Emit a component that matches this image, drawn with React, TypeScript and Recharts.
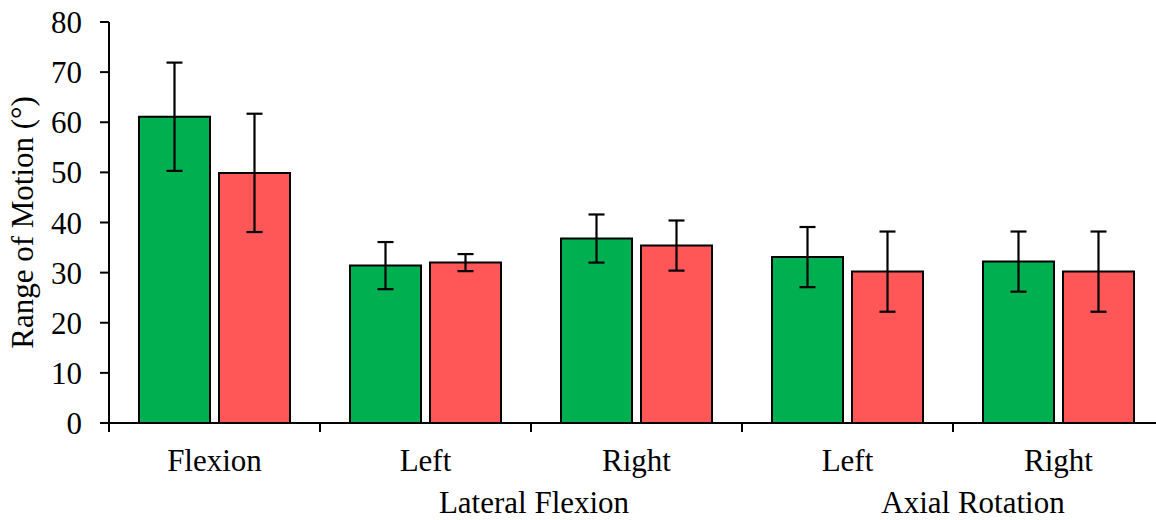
import React from 'react';
import { BarChart, Bar, XAxis, YAxis, ErrorBar } from 'recharts';

const CATEGORIES = ['Flexion', 'Left', 'Right', 'Left', 'Right'];
// group caption centred on the right edge of the category it belongs to
const GROUP_LABELS = ['', 'Lateral Flexion', '', 'Axial Rotation', ''];

const GROUP_A = [61.1, 31.4, 36.8, 33.1, 32.2];
const GROUP_A_SD = [10.8, 4.7, 4.8, 6.0, 6.0];
const GROUP_B = [49.9, 32.0, 35.4, 30.2, 30.2];
const GROUP_B_SD = [11.8, 1.7, 5.0, 8.0, 8.0];

const Y_TICKS = [0, 10, 20, 30, 40, 50, 60, 70, 80];

const FONT = '"Liberation Serif", "Times New Roman", serif';
const FONT_SIZE = 31;

const data = CATEGORIES.map((name, i) => ({
  name,
  a: GROUP_A[i],
  aSd: GROUP_A_SD[i],
  b: GROUP_B[i],
  bSd: GROUP_B_SD[i],
}));

function CategoryTick(props: any) {
  const { x, y, payload, index } = props;
  const half = payload?.offset ?? 105.5;
  const last = index === CATEGORIES.length - 1;
  const group = GROUP_LABELS[index];
  // axial rotation caption sits a bit right of its boundary
  const nudge = index === 3 ? 20 : 3;
  return (
    <g>
      <line x1={x - half} y1={y} x2={x - half} y2={y + 9} stroke="#000" strokeWidth={2} />
      {last && <line x1={x + half} y1={y} x2={x + half} y2={y + 9} stroke="#000" strokeWidth={2} />}
      <text x={x} y={y + 48} textAnchor="middle" fill="#000" fontFamily={FONT} fontSize={FONT_SIZE}>
        {payload.value}
      </text>
      {group && (
        <text x={x + half + nudge} y={y + 90} textAnchor="middle" fill="#000" fontFamily={FONT} fontSize={FONT_SIZE}>
          {group}
        </text>
      )}
    </g>
  );
}

function YTitle(props: any) {
  const vb = props.viewBox || {};
  const cy = (vb.y ?? 22) + (vb.height ?? 401) / 2;
  return (
    <text
      x={33}
      y={cy}
      transform={`rotate(-90, 33, ${cy})`}
      textAnchor="middle"
      fill="#000"
      fontFamily={FONT}
      fontSize={FONT_SIZE}
    >
      Range of Motion (°)
    </text>
  );
}

export default function App() {
  return (
    <div style={{ position: 'absolute', left: 0, top: 0, width: 1156, height: 520, overflow: 'hidden', background: '#fff' }}>
      <BarChart
        width={1180}
        height={520}
        data={data}
        margin={{ top: 22, right: 16, bottom: 0, left: 0 }}
        barCategoryGap={30}
        barGap={9}
      >
        <XAxis
          dataKey="name"
          height={97}
          interval={0}
          axisLine={{ stroke: '#000', strokeWidth: 2 }}
          tickLine={false}
          tickSize={0}
          tickMargin={0}
          tick={<CategoryTick />}
        />
        <YAxis
          width={109}
          domain={[0, 80]}
          ticks={Y_TICKS}
          interval={0}
          axisLine={{ stroke: '#000', strokeWidth: 2 }}
          tickLine={{ stroke: '#000', strokeWidth: 2 }}
          tickSize={9}
          tickMargin={18}
          tick={{ fill: '#000', fontFamily: FONT, fontSize: FONT_SIZE }}
          label={<YTitle />}
        />
        <Bar dataKey="a" fill="#00B050" stroke="#000" strokeWidth={2} isAnimationActive={false}>
          <ErrorBar dataKey="aSd" width={8} stroke="#000" strokeWidth={2.2} />
        </Bar>
        <Bar dataKey="b" fill="#FF5757" stroke="#000" strokeWidth={2} isAnimationActive={false}>
          <ErrorBar dataKey="bSd" width={8} stroke="#000" strokeWidth={2.2} />
        </Bar>
      </BarChart>
    </div>
  );
}
